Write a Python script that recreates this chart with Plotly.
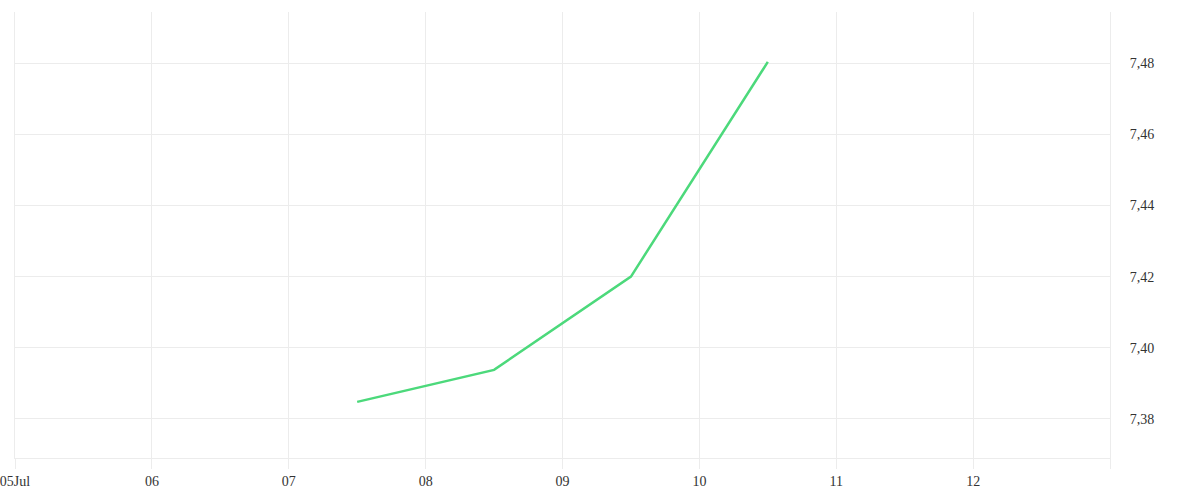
import plotly.graph_objects as go

dates = ["2024-07-07 12:00", "2024-07-08 12:00", "2024-07-09 12:00", "2024-07-10 12:00"]
values = [7.3848, 7.3938, 7.4200, 7.4803]

tick_dates = ["2024-07-05", "2024-07-06", "2024-07-07", "2024-07-08", "2024-07-09",
              "2024-07-10", "2024-07-11", "2024-07-12", "2024-07-13"]
tick_labels = ["05Jul", "06", "07", "08", "09", "10", "11", "12", ""]
y_ticks = [7.38, 7.40, 7.42, 7.44, 7.46, 7.48]

fig = go.Figure()
fig.add_trace(go.Scatter(
    x=dates, y=values, mode="lines",
    line=dict(color="#4cd97b", width=2.5),
    hoverinfo="x+y", showlegend=False,
))

grid = "#ececec"
fig.update_layout(
    width=1200, height=500,
    margin=dict(l=15, r=90, t=12, b=42),
    paper_bgcolor="white", plot_bgcolor="white",
    separators=",.",
    font=dict(family="Liberation Serif", size=14, color="#333333"),
    xaxis=dict(
        type="date",
        range=["2024-07-05", "2024-07-13"],
        tickvals=tick_dates, ticktext=tick_labels,
        showgrid=True, gridcolor=grid, gridwidth=1,
        ticks="outside", ticklen=10, tickcolor=grid, tickwidth=1,
        showline=True, linecolor=grid, linewidth=1,
        zeroline=False, automargin=False, ticklabeloverflow="allow",
    ),
    yaxis=dict(
        side="right",
        range=[7.36904, 7.49433],
        tickvals=y_ticks, tickformat=".2f",
        showgrid=True, gridcolor=grid, gridwidth=1,
        ticks="", ticklabelstandoff=16,
        showline=True, mirror=True, linecolor=grid, linewidth=1,
        zeroline=False, automargin=False, ticklabeloverflow="allow",
    ),
)

fig.write_html("out.html", config={"displayModeBar": False},
               post_script="document.body.style.margin='0';")
